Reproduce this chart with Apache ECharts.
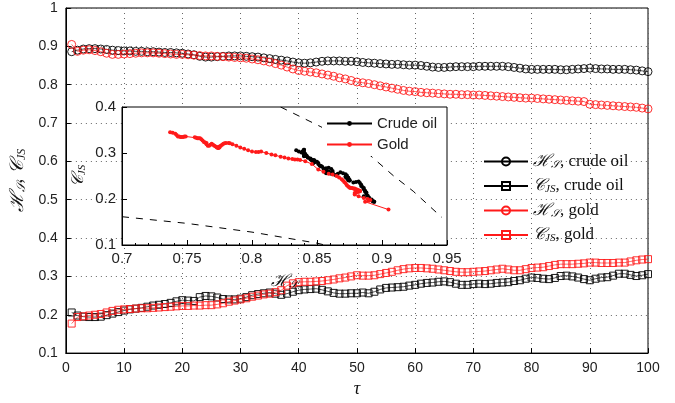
<!DOCTYPE html>
<html><head><meta charset="utf-8">
<script src="https://cdn.jsdelivr.net/npm/echarts@6/dist/echarts.min.js"></script>
<style>html,body{margin:0;padding:0;background:#fff}#c{width:675px;height:403px}</style>
</head><body><div id="c"></div>
<script>
// tau = 1..100
const tau = Array.from({length: 100}, (_, i) => i + 1);
const hsOil = [0.886,0.890,0.893,0.894,0.894,0.893,0.892,0.890,0.889,0.888,
0.888,0.887,0.887,0.886,0.886,0.885,0.884,0.884,0.883,0.882,
0.880,0.878,0.874,0.872,0.872,0.873,0.874,0.875,0.875,0.875,
0.874,0.873,0.872,0.870,0.868,0.866,0.864,0.862,0.859,0.857,
0.856,0.857,0.859,0.861,0.862,0.862,0.862,0.861,0.861,0.860,
0.858,0.857,0.856,0.855,0.854,0.853,0.853,0.852,0.851,0.851,
0.850,0.848,0.846,0.845,0.845,0.846,0.847,0.847,0.847,0.847,
0.848,0.848,0.848,0.848,0.848,0.847,0.845,0.843,0.841,0.840,
0.840,0.840,0.840,0.840,0.839,0.839,0.840,0.841,0.842,0.843,
0.842,0.841,0.841,0.840,0.840,0.840,0.839,0.838,0.836,0.834];
const hsGold = [0.905,0.887,0.890,0.891,0.889,0.886,0.882,0.879,0.879,0.880,
0.881,0.882,0.883,0.883,0.883,0.882,0.881,0.880,0.879,0.879,
0.878,0.877,0.876,0.875,0.875,0.874,0.873,0.872,0.871,0.870,
0.869,0.867,0.865,0.862,0.859,0.855,0.851,0.846,0.841,0.837,
0.835,0.833,0.831,0.828,0.825,0.822,0.818,0.815,0.811,0.807,
0.805,0.803,0.800,0.797,0.794,0.791,0.788,0.785,0.783,0.782,
0.780,0.779,0.778,0.777,0.776,0.775,0.775,0.774,0.774,0.773,
0.773,0.772,0.771,0.770,0.769,0.768,0.767,0.766,0.765,0.765,
0.764,0.763,0.762,0.761,0.760,0.759,0.758,0.757,0.756,0.749,
0.748,0.747,0.746,0.745,0.744,0.743,0.742,0.741,0.739,0.737];
const cjsOil = [0.206,0.198,0.195,0.194,0.194,0.195,0.199,0.203,0.207,0.211,
0.214,0.216,0.218,0.221,0.224,0.226,0.228,0.231,0.235,0.238,
0.237,0.236,0.246,0.249,0.248,0.245,0.241,0.240,0.240,0.242,
0.246,0.251,0.254,0.256,0.258,0.255,0.252,0.255,0.260,0.264,
0.266,0.267,0.268,0.265,0.261,0.257,0.255,0.255,0.256,0.256,
0.258,0.256,0.260,0.266,0.270,0.271,0.272,0.273,0.276,0.278,
0.281,0.283,0.284,0.286,0.287,0.285,0.281,0.278,0.278,0.280,
0.281,0.280,0.281,0.283,0.284,0.285,0.288,0.290,0.294,0.297,
0.296,0.294,0.293,0.296,0.301,0.302,0.300,0.297,0.293,0.290,
0.294,0.297,0.298,0.302,0.307,0.307,0.304,0.301,0.303,0.306];
const cjsGold = [0.177,0.194,0.196,0.198,0.200,0.202,0.206,0.210,0.213,0.214,
0.215,0.216,0.217,0.217,0.218,0.219,0.220,0.221,0.222,0.223,
0.223,0.224,0.224,0.225,0.225,0.227,0.230,0.234,0.237,0.240,
0.243,0.247,0.250,0.253,0.255,0.259,0.264,0.276,0.282,0.285,
0.286,0.286,0.287,0.288,0.290,0.292,0.295,0.297,0.300,0.303,
0.302,0.302,0.303,0.306,0.309,0.312,0.316,0.319,0.321,0.322,
0.322,0.321,0.320,0.318,0.316,0.314,0.312,0.311,0.311,0.312,
0.313,0.314,0.316,0.318,0.320,0.318,0.316,0.316,0.319,0.322,
0.323,0.324,0.327,0.330,0.332,0.332,0.332,0.333,0.334,0.336,
0.336,0.335,0.335,0.335,0.336,0.336,0.339,0.342,0.344,0.345];
// bounds of the complexity-entropy plane (dashed curves in inset)
const lowBoundH = [0.700,0.750,0.800,0.850,0.856];
const lowBoundC = [0.1615,0.147,0.128,0.104,0.100];
const highBoundH = [0.822,0.853,0.870,0.890,0.909,0.924,0.946];
const highBoundC = [0.400,0.357,0.330,0.297,0.250,0.217,0.160];

const zip = (a, b) => a.map((v, i) => [v, b[i]]);
const RED = '#ff1a1a', BLACK = '#000000';
const serif = 'Liberation Serif, DejaVu Serif, serif';
const sans = 'Liberation Sans, Arial, sans-serif';

const mkRich = (big, small, pad) => ({
  m: {fontFamily: serif, fontStyle: 'italic', fontSize: big, color: '#111'},
  s: {fontFamily: serif, fontStyle: 'italic', fontSize: small, color: '#111', padding: [pad, 0, 0, 0]},
  t: {fontFamily: serif, fontSize: big, color: '#111'}
});
const richMath = mkRich(17, 11, 7);
const richAxis = mkRich(19, 12, 8);
const legendNames = {
  'hso': '{m|ℋ}{s|𝒮}{t|, crude oil}',
  'cjo': '{m|𝒞}{s|JS}{t|, crude oil}',
  'hsg': '{m|ℋ}{s|𝒮}{t|, gold}',
  'cjg': '{m|𝒞}{s|JS}{t|, gold}'
};

const chart = echarts.init(document.getElementById('c'));
const mainLine = (name, data, color, sym, size) => ({
  name, type: 'line', xAxisIndex: 0, yAxisIndex: 0, data: zip(tau, data),
  symbol: sym, symbolSize: size, showSymbol: true,
  lineStyle: {color, width: 0.7},
  itemStyle: {color: 'rgba(255,255,255,0)', borderColor: color, borderWidth: 0.9},
  z: 2
});
chart.setOption({
  animation: false,
  grid: [
    {left: 65, right: 27, top: 8, bottom: 38, show: true, borderColor: '#000', borderWidth: 1, backgroundColor: 'transparent'},
    {left: 122, top: 107, width: 325, height: 138, show: true, borderColor: '#000', borderWidth: 1, backgroundColor: '#fff', z: 5}
  ],
  xAxis: [
    {type: 'value', gridIndex: 0, min: 0, max: 100, interval: 10,
     axisLine: {lineStyle: {color: '#000'}}, axisTick: {inside: true, length: 5, lineStyle: {color: '#000'}},
     axisLabel: {color: '#222', fontSize: 14, fontFamily: sans, margin: 8},
     splitLine: {show: true, lineStyle: {type: [1, 4], color: '#666'}},
     name: 'τ', nameLocation: 'middle', nameGap: 22,
     nameTextStyle: {fontFamily: serif, fontStyle: 'italic', fontSize: 18, color: '#111'}},
    {type: 'value', gridIndex: 1, min: 0.7, max: 0.95, interval: 0.05, z: 6,
     axisLine: {lineStyle: {color: '#000'}}, axisTick: {inside: true, length: 5, lineStyle: {color: '#000'}},
     minorTick: {show: true, splitNumber: 5, length: 2, lineStyle: {color: '#000'}},
     axisLabel: {color: '#222', fontSize: 15, fontFamily: sans, margin: 6},
     splitLine: {show: false},
     name: '{m|ℋ}{s|𝒮}', nameLocation: 'middle', nameGap: 28,
     nameTextStyle: {rich: richMath}}
  ],
  yAxis: [
    {type: 'value', gridIndex: 0, min: 0.1, max: 1, interval: 0.1,
     axisLine: {lineStyle: {color: '#000'}}, axisTick: {inside: true, length: 5, lineStyle: {color: '#000'}},
     axisLabel: {color: '#222', fontSize: 14, fontFamily: sans, margin: 8},
     splitLine: {show: true, lineStyle: {type: [1, 4], color: '#666'}},
     name: '{m|ℋ}{s|𝒮}{t|, }{m|𝒞}{s|JS}', nameLocation: 'middle', nameGap: 38,
     nameTextStyle: {rich: richAxis}},
    {type: 'value', gridIndex: 1, min: 0.1, max: 0.4, interval: 0.1, z: 6,
     axisLine: {lineStyle: {color: '#000'}}, axisTick: {inside: true, length: 5, lineStyle: {color: '#000'}},
     axisLabel: {color: '#222', fontSize: 15, fontFamily: sans, margin: 6},
     splitLine: {show: false},
     name: '{m|𝒞}{s|JS}', nameLocation: 'middle', nameGap: 34,
     nameTextStyle: {rich: richMath}}
  ],
  legend: [
    {data: ['hso', 'cjo', 'hsg', 'cjg'], orient: 'vertical', left: 478, top: 148,
     itemWidth: 44, itemHeight: 10, itemGap: 7,
     formatter: n => legendNames[n], textStyle: {rich: richMath}},
    {data: ['Crude oil', 'Gold'], orient: 'vertical', left: 322, top: 112,
     itemWidth: 45, itemHeight: 6, itemGap: 6, backgroundColor: '#fff', padding: [4, 8, 4, 4], z: 20,
     textStyle: {fontFamily: sans, fontSize: 15, color: '#222'}}
  ],
  series: [
    mainLine('hso', hsOil, BLACK, 'circle', 8),
    mainLine('cjo', cjsOil, BLACK, 'rect', 7),
    mainLine('hsg', hsGold, RED, 'circle', 8),
    mainLine('cjg', cjsGold, RED, 'rect', 7),
    {type: 'line', xAxisIndex: 1, yAxisIndex: 1, data: zip(lowBoundH, lowBoundC), symbol: 'none',
     lineStyle: {color: '#000', width: 1, type: [7, 7]}, z: 7, silent: true},
    {type: 'line', xAxisIndex: 1, yAxisIndex: 1, data: zip(highBoundH, highBoundC), symbol: 'none',
     lineStyle: {color: '#000', width: 1, type: [7, 7]}, z: 7, silent: true},
    {name: 'Crude oil', type: 'line', xAxisIndex: 1, yAxisIndex: 1, data: zip(hsOil, cjsOil),
     symbol: 'circle', symbolSize: 4, lineStyle: {color: BLACK, width: 1}, itemStyle: {color: BLACK}, z: 8},
    {name: 'Gold', type: 'line', xAxisIndex: 1, yAxisIndex: 1, data: zip(hsGold, cjsGold),
     symbol: 'circle', symbolSize: 4, lineStyle: {color: RED, width: 1}, itemStyle: {color: RED}, z: 8}
  ]
});
</script></body></html>
